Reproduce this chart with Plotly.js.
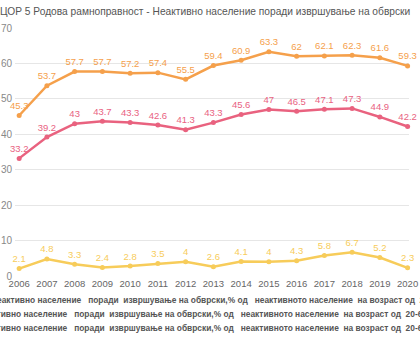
<!DOCTYPE html>
<html>
<head>
<meta charset="utf-8">
<script src="https://cdn.plot.ly/plotly-3.0.1.min.js"></script>
<style>html,body{margin:0;padding:0;background:#fff;}#chart{width:420px;height:350px;}</style>
</head>
<body>
<div id="chart"></div>
<script>
const years = [2006,2007,2008,2009,2010,2011,2012,2013,2014,2015,2016,2017,2018,2019,2020];
const women = [45.3,53.7,57.7,57.7,57.2,57.4,55.5,59.4,60.9,63.3,62,62.1,62.3,61.6,59.3];
const total = [33.2,39.2,43,43.7,43.3,42.6,41.3,43.3,45.6,47,46.5,47.1,47.3,44.9,42.2];
const men = [2.1,4.8,3.3,2.4,2.8,3.5,4,2.6,4.1,4,4.3,5.8,6.7,5.2,2.3];
const seriesNames = [
  "Неактивно население   поради  извршување на обврски,% од   неактивното население  на возраст од  20-64 години, вкупно",
  "Неактивно население   поради  извршување на обврски,% од   неактивното население  на возраст од  20-64 години, жени",
  "Неактивно население   поради  извршување на обврски,% од   неактивното население  на возраст од  20-64 години, мажи"
];
const titleText = "ЦОР 5 Родова рамноправност - Неактивно население поради извршување на обврски";

const colors = ["#F5A04B", "#E9627F", "#F7CC5A"];
const seriesVals = [women, total, men];
const legendIdx = [1, 0, 2];

const traces = seriesVals.map((vals, i) => ({
  x: years, y: vals, type: 'scatter', mode: 'lines+markers+text',
  name: seriesNames[legendIdx[i]],
  text: vals.map(v => String(v)), textposition: 'top center',
  textfont: {family: 'Arial, Liberation Sans, sans-serif', size: 9.5, color: colors[i]},
  line: {color: colors[i], width: 2.5},
  marker: {color: colors[i], size: 5},
  cliponaxis: false, showlegend: false, hoverinfo: 'none'
}));

const L = 15, R = 11, W = 420;
const pw = W - L - R;
function px2paper(px){ return (px - L) / pw; }

const legendRows = [
  {name: seriesNames[0], px: -11.5, py: 300},
  {name: seriesNames[1], px: -25.5, py: 314},
  {name: seriesNames[2], px: -25.5, py: 328}
];
const annotations = legendRows.map(r => ({
  text: '<b>' + r.name.replace(/ /g, '\u00a0') + '</b>',
  xref: 'paper', yref: 'paper', x: px2paper(r.px), xanchor: 'left',
  y: (276 - r.py) / 248, yanchor: 'middle', showarrow: false,
  font: {family: 'Arial, Liberation Sans, sans-serif', size: 8.4, color: '#555'}
}));

const layout = {
  width: 420, height: 350,
  margin: {l: L, r: R, t: 28, b: 74},
  paper_bgcolor: '#fff', plot_bgcolor: '#fff',
  font: {family: 'Arial, Liberation Sans, sans-serif'},
  title: {text: titleText, x: 0, xanchor: 'left', xref: 'container', y: 1 - 11/350, yanchor: 'middle', yref: 'container',
    font: {family: 'Arial, Liberation Sans, sans-serif', size: 10.2, color: '#555'}},
  xaxis: {range: [2005.85, 2020.05], tickvals: years, ticktext: years.map(String), showgrid: false, zeroline: false, showline: false,
    tickfont: {size: 9.5, color: '#666'}, fixedrange: true},
  yaxis: {range: [0, 70], dtick: 10, showgrid: true, gridcolor: '#e6e6e6', gridwidth: 1, zeroline: false, showline: false,
    tickfont: {size: 10, color: '#888'}, ticklabelstandoff: 2, fixedrange: true},
  showlegend: false,
  annotations: annotations
};

Plotly.newPlot('chart', traces, layout, {staticPlot: true});
</script>
</body>
</html>
